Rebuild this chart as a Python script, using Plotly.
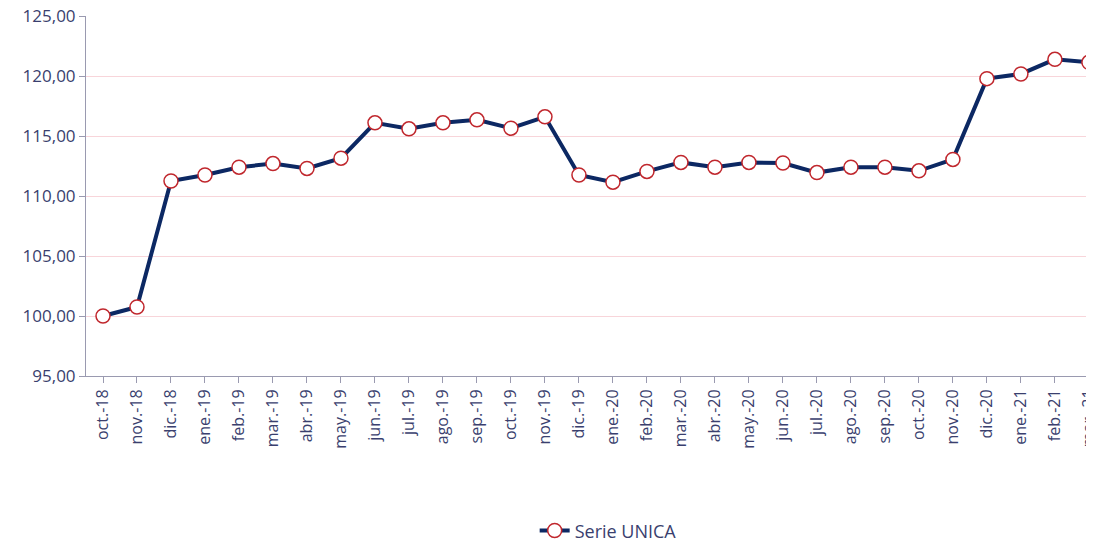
import plotly.graph_objects as go

months = ["oct.-18", "nov.-18", "dic.-18", "ene.-19", "feb.-19", "mar.-19", "abr.-19", "may.-19",
          "jun.-19", "jul.-19", "ago.-19", "sep.-19", "oct.-19", "nov.-19", "dic.-19", "ene.-20",
          "feb.-20", "mar.-20", "abr.-20", "may.-20", "jun.-20", "jul.-20", "ago.-20", "sep.-20",
          "oct.-20", "nov.-20", "dic.-20", "ene.-21", "feb.-21", "mar.-21"]
serie_unica = [100.00, 100.75, 111.25, 111.75, 112.40, 112.70, 112.30, 113.15,
               116.10, 115.60, 116.10, 116.35, 115.65, 116.60, 111.75, 111.15,
               112.05, 112.80, 112.40, 112.80, 112.75, 111.95, 112.40, 112.40,
               112.10, 113.05, 119.78, 120.17, 121.39, 121.14]
series_name = "Serie UNICA"
y_ticks = [95, 100, 105, 110, 115, 120, 125]

text_color = "#3a3f6e"
axis_color = "#9a9ab0"

fig = go.Figure()
fig.add_trace(go.Scatter(
    x=list(range(len(months))), y=serie_unica, name=series_name,
    mode="lines+markers",
    line=dict(color="#0c2863", width=4),
    marker=dict(symbol="circle", size=14, color="white",
                line=dict(color="#c0272d", width=1.5)),
))

fig.update_layout(
    width=1112, height=531,
    margin=dict(l=78, r=0, t=8, b=163, autoexpand=False),
    paper_bgcolor="white", plot_bgcolor="white",
    font=dict(family="Open Sans", color=text_color, size=16),
    separators=",.",
    showlegend=True,
    legend=dict(orientation="h", x=0.505, xanchor="center", y=-0.43, yanchor="middle",
                font=dict(size=18, color=text_color)),
    xaxis=dict(
        range=[-0.5, 29.915], automargin=False, ticklabeloverflow="allow",
        tickmode="array", tickvals=list(range(len(months))), ticktext=months,
        tickangle=-90, tickson="boundaries", ticks="outside", ticklen=6,
        tickcolor=axis_color, showline=True, linecolor=axis_color, linewidth=1,
        showgrid=False, zeroline=False, tickfont=dict(size=16, color=text_color),
    ),
    yaxis=dict(
        range=[95, 125], tickvals=y_ticks, tickformat=".2f", automargin=False,
        ticklabeloverflow="allow",
        ticks="outside", ticklen=6, tickcolor=axis_color,
        showline=True, linecolor=axis_color, linewidth=1,
        showgrid=True, gridcolor="#f8d5da", gridwidth=1, zeroline=False,
        tickfont=dict(size=17, color=text_color),
    ),
)

fig.write_html("out.html")
